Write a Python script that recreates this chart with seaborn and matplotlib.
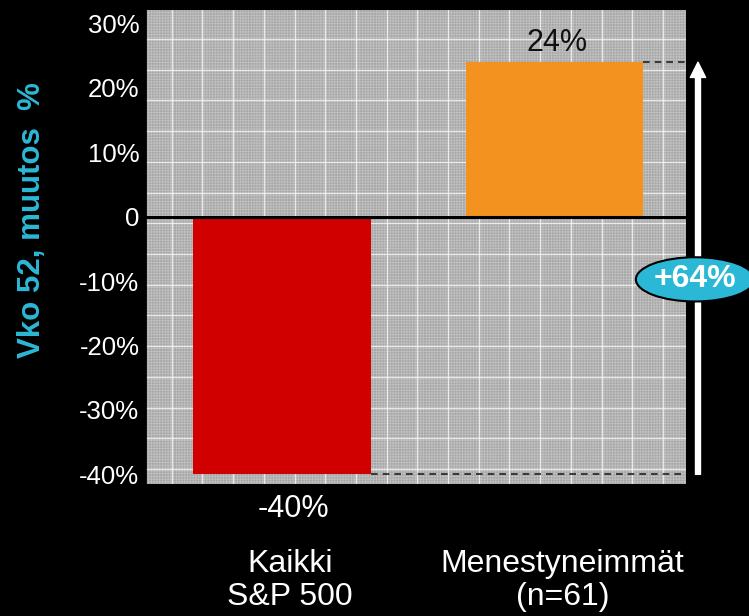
import matplotlib
matplotlib.use("Agg")
import matplotlib.pyplot as plt
import matplotlib.transforms as mtransforms
from matplotlib.patches import Rectangle
from matplotlib.ticker import MultipleLocator
import seaborn as sns

categories = ["Kaikki\nS&P 500", "Menestyneimmät\n(n=61)"]
changes = [-40, 24]
bar_colors = ["#D00000", "#F4921F"]
value_labels = ["-40%", "24%"]
ytick_vals = [30, 20, 10, 0, -10, -20, -30, -40]
ytick_labels = ["30%", "20%", "10%", "0", "-10%", "-20%", "-30%", "-40%"]
ylabel = "Vko 52, muutos  %"

cyan = "#2BB8D6"

sns.set_style("white")
plt.rcParams["font.family"] = ["Liberation Sans", "DejaVu Sans"]
plt.rcParams["hatch.linewidth"] = 0.6

fig = plt.figure(figsize=(7.49, 6.16), dpi=100, facecolor="black")
ax = fig.add_axes([145 / 749, 1 - 484 / 616, 541 / 749, 474 / 616])
ax.set_facecolor("#a6a6a6")

# textured grey background like the slide pattern fill
ax.add_patch(Rectangle((0, 0), 1, 1, transform=ax.transAxes, facecolor="#a6a6a6",
                       edgecolor="#c0c0c0", hatch="+" * 6, lw=0, zorder=0))

sns.barplot(x=categories, y=changes, hue=categories, palette=bar_colors, width=0.65,
            saturation=1, legend=False, ax=ax, edgecolor="none", zorder=2)

ax.set_xlim(-0.503, 1.483)
ax.set_ylim(-41.5, 32.1)

# white pattern grid
ax.set_axisbelow(True)
ax.yaxis.set_minor_locator(MultipleLocator(4.77, offset=3.75))
ax.xaxis.set_minor_locator(MultipleLocator(0.1127, offset=0.046))
ax.grid(which="minor", color="white", lw=1.0, alpha=0.7)
ax.grid(which="major", visible=False)
ax.tick_params(which="minor", length=0)

ax.axhline(0, color="black", lw=2.2, zorder=3)

for s in ["top", "right", "bottom"]:
    ax.spines[s].set_visible(False)
ax.spines["left"].set_color("black")
ax.spines["left"].set_linewidth(2)
ax.spines["left"].set_zorder(4)

ax.set_yticks(ytick_vals, ytick_labels)
ax.tick_params(axis="y", which="major", left=True, length=4, width=1.5, color="black",
               labelcolor="white", labelsize=18.5, pad=0)
ax.tick_params(axis="x", which="major", length=0, labelcolor="white", labelsize=23, pad=47)
shift = mtransforms.ScaledTranslation(8 / 100, 0, fig.dpi_scale_trans)
for lbl in ax.get_xticklabels():
    lbl.set_linespacing(1.12)
    lbl.set_transform(lbl.get_transform() + shift)
ax.set_xlabel("")

ax.set_ylabel(ylabel, color=cyan, fontsize=22.5, fontweight="bold")
ax.yaxis.set_label_coords(-0.181, 0.557)

# value labels
ax.annotate(value_labels[1], xy=(1, changes[1]), xytext=(2, 8), textcoords="offset points",
            ha="center", va="baseline", fontsize=22, color="#111111")
ax.annotate(value_labels[0], xy=(0, changes[0]), xytext=(8, -31), textcoords="offset points",
            ha="center", va="baseline", fontsize=22, color="white", annotation_clip=False)

# dashed guides from bar ends to the arrow
xmax = ax.get_xlim()[1]
ax.hlines(changes[1], 1 + 0.325, xmax, colors="#222222", linestyles=(0, (4, 3)), lw=1.2, zorder=3)
ax.hlines(changes[0], 0 + 0.325, xmax, colors="#222222", linestyles=(0, (4, 3)), lw=1.2, zorder=3)

# difference arrow
arrow_x = 1.527
ax.annotate("", xy=(arrow_x, changes[1]), xytext=(arrow_x, changes[0]),
            arrowprops=dict(facecolor="white", edgecolor="white", width=3.6,
                            headwidth=11, headlength=11, shrink=0),
            annotation_clip=False)
mid = (changes[0] + changes[1]) / 2
ax.annotate(f"+{changes[1] - changes[0]}%", xy=(arrow_x, mid), xytext=(-2, -8),
            textcoords="offset points", ha="center", va="center", fontsize=23,
            fontweight="bold", color="white", annotation_clip=False,
            bbox=dict(boxstyle="ellipse,pad=0.02", fc=cyan, ec="black", lw=1.5))

fig.savefig("out.png", dpi=100, facecolor="black")
